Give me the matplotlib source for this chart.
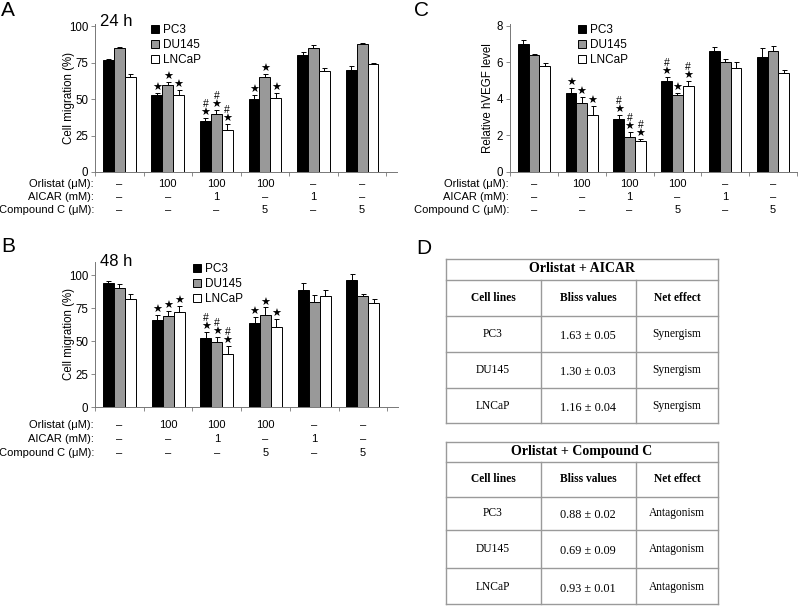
import numpy as np
import matplotlib
matplotlib.use('Agg')
import matplotlib.pyplot as plt
import matplotlib.transforms as mtransforms
from matplotlib.patches import Patch

plt.rcParams['font.family'] = ['Liberation Sans', 'DejaVu Sans']

W, H = 800, 606

# ---------------- data ----------------
cell_lines = ['PC3', 'DU145', 'LNCaP']
bar_colors = ['black', '#999999', 'white']

row_names = ['Orlistat (μM):', 'AICAR (mM):', 'Compound C (μM):']
orlistat = ['–', '100', '100', '100', '–', '–']
aicar = ['–', '–', '1', '–', '1', '–']
compound_c = ['–', '–', '–', '5', '–', '5']

# A: cell migration 24 h (%)
mig24_pc3 = [77, 53, 35, 50, 80, 70]
mig24_du145 = [85, 60, 40, 65, 85, 88]
mig24_lncap = [65, 53, 29, 51, 69, 74]
mig24_pc3_err = [0.5, 1.5, 2, 2.5, 2.5, 2.5]
mig24_du145_err = [1, 1.5, 2.5, 2, 2, 0.5]
mig24_lncap_err = [2, 3, 4, 3, 2, 1]

# B: cell migration 48 h (%)
mig48_pc3 = [94, 66, 52, 64, 89, 96]
mig48_du145 = [90, 69, 49, 70, 80, 84]
mig48_lncap = [82, 72, 40, 61, 84, 79]
mig48_pc3_err = [1.5, 4, 5, 4, 5, 5]
mig48_du145_err = [3, 3.5, 4, 5.5, 5, 1.5]
mig48_lncap_err = [4, 5, 6.5, 6, 4.5, 3]

# C: relative hVEGF level
vegf_pc3 = [7.0, 4.3, 2.9, 5.0, 6.6, 6.3]
vegf_du145 = [6.4, 3.8, 1.9, 4.2, 6.0, 6.6]
vegf_lncap = [5.8, 3.1, 1.7, 4.7, 5.7, 5.4]
vegf_pc3_err = [0.2, 0.3, 0.2, 0.2, 0.25, 0.5]
vegf_du145_err = [0.05, 0.3, 0.3, 0.15, 0.2, 0.3]
vegf_lncap_err = [0.15, 0.5, 0.1, 0.3, 0.3, 0.2]

# significance marks (* vs control, # vs orlistat alone)
sig_mig = ['', '*', '#*', '*', '', '']
sig_vegf_pc3 = ['', '*', '#*', '#*', '', '']
sig_vegf_du145 = ['', '*', '#*', '*', '', '']
sig_vegf_lncap = ['', '*', '#*', '#*', '', '']

# D: Bliss tables
table_cols = ['Cell lines', 'Bliss values', 'Net effect']
aicar_bliss = ['1.63 ± 0.05', '1.30 ± 0.03', '1.16 ± 0.04']
aicar_effect = ['Synergism', 'Synergism', 'Synergism']
compc_bliss = ['0.88 ± 0.02', '0.69 ± 0.09', '0.93 ± 0.01']
compc_effect = ['Antagonism', 'Antagonism', 'Antagonism']

fig = plt.figure(figsize=(W / 100, H / 100), dpi=100)


def px_axes(x0, y0, x1, y1):
    return fig.add_axes([x0 / W, 1 - y1 / H, (x1 - x0) / W, (y1 - y0) / H])


# overlay in pixel coordinates, drawn above everything
over = fig.add_axes([0, 0, 1, 1])
over.set_xlim(0, W)
over.set_ylim(H, 0)
over.axis('off')
over.set_zorder(10)

bw = 0.225
fs = 8


def bar_panel(ax, series, errs, sigs, ymax, yticks, ylabel, ylab_x, xmax, legend_xy, rows_y, label_x):
    x = np.arange(6)
    for k in range(3):
        xs = x + (k - 1) * bw
        ax.bar(xs, series[k], width=bw, color=bar_colors[k], edgecolor='black', linewidth=0.7, zorder=2)
        ax.errorbar(xs, series[k], yerr=[np.zeros(6), errs[k]], fmt='none', ecolor='black',
                    elinewidth=0.7, capsize=1.8, capthick=0.7, zorder=3)
        for i in range(6):
            top = series[k][i] + errs[k][i]
            if '*' in sigs[k][i]:
                ax.annotate('★', (xs[i], top), xytext=(0, 5), textcoords='offset pixels',
                            ha='center', va='center', fontsize=8, family='DejaVu Sans')
            if '#' in sigs[k][i]:
                ax.annotate('#', (xs[i], top), xytext=(0, 14), textcoords='offset pixels',
                            ha='center', va='center', fontsize=7.5)
    ax.set_xlim(-0.5, xmax)
    ax.set_ylim(0, ymax)
    ax.set_yticks(yticks)
    ax.set_xticks(np.arange(7) - 0.5)
    ax.set_xticklabels([])
    ax.tick_params(axis='x', length=3, width=0.6, color='#777777')
    ax.tick_params(axis='y', length=3, width=0.6, color='#777777', labelsize=fs + 0.3, pad=2)
    for s in ['top', 'right']:
        ax.spines[s].set_visible(False)
    for s in ['left', 'bottom']:
        ax.spines[s].set_color('#777777')
        ax.spines[s].set_linewidth(0.7)
    ax.set_ylabel(ylabel, fontsize=fs + 0.3)
    x0 = ax.get_position().x0 * W
    # label anchor is its right side; shift so the text centre lands on ylab_x
    ax.yaxis.set_label_coords((ylab_x + 6 - x0) / (ax.get_position().width * W), 0.5)
    handles = [Patch(facecolor=c, edgecolor='black', linewidth=0.7) for c in bar_colors]
    ax.legend(handles, cell_lines, loc='upper left',
              bbox_to_anchor=(legend_xy[0] / W, 1 - legend_xy[1] / H), bbox_transform=fig.transFigure,
              frameon=False, fontsize=fs + 0.5, handlelength=0.7, handleheight=0.7, handletextpad=0.35,
              labelspacing=0.25, borderpad=0, borderaxespad=0)
    tr = mtransforms.blended_transform_factory(ax.transData, over.transData)
    for name, vals, yy in zip(row_names, [orlistat, aicar, compound_c], rows_y):
        over.text(label_x, yy, name, ha='right', va='center', fontsize=fs)
        for i, v in enumerate(vals):
            over.text(i, yy, v, ha='center', va='center', fontsize=fs, transform=tr)


axA = px_axes(95, 24, 397, 172)
bar_panel(axA, [mig24_pc3, mig24_du145, mig24_lncap],
          [mig24_pc3_err, mig24_du145_err, mig24_lncap_err], [sig_mig] * 3,
          101.5, [0, 25, 50, 75, 100], 'Cell migration (%)', 69, 5.72, (151, 24), (184, 197, 210), 94)

axB = px_axes(95, 262, 398, 407)
bar_panel(axB, [mig48_pc3, mig48_du145, mig48_lncap],
          [mig48_pc3_err, mig48_du145_err, mig48_lncap_err], [sig_mig] * 3,
          110, [0, 25, 50, 75, 100], 'Cell migration (%)', 69, 5.72, (193, 263), (425, 439, 453), 94)

axC = px_axes(510, 24, 797, 172)
bar_panel(axC, [vegf_pc3, vegf_du145, vegf_lncap],
          [vegf_pc3_err, vegf_du145_err, vegf_lncap_err], [sig_vegf_pc3, sig_vegf_du145, sig_vegf_lncap],
          8.1, [0, 2, 4, 6, 8], 'Relative hVEGF level', 488, 5.45, (578, 24), (184, 197, 210), 509)

over.text(100, 22, '24 h', fontsize=12, va='center', ha='left')
over.text(100, 262, '48 h', fontsize=12, va='center', ha='left')

for letter, lx, ly in [('A', 1, 11), ('B', 1, 246), ('C', 414, 11), ('D', 416, 248)]:
    over.text(lx, ly, letter, fontsize=15, ha='left', va='center')

# ---------------- tables ----------------
serif = ['Liberation Serif', 'DejaVu Serif']
tab_x = [446, 541, 636, 718]
col_cx = [493, 588, 677]
line_c = '#9a9a9a'


def draw_table(title, ys, text_y, bliss, effect):
    for yy in ys:
        over.plot([tab_x[0], tab_x[-1]], [yy, yy], color=line_c, lw=1)
    for xx in [tab_x[0], tab_x[-1]]:
        over.plot([xx, xx], [ys[0], ys[-1]], color=line_c, lw=1)
    for xx in tab_x[1:3]:
        over.plot([xx, xx], [ys[1], ys[-1]], color=line_c, lw=1)
    over.text((tab_x[0] + tab_x[-1]) / 2, text_y[0], title, ha='center', va='center',
              fontsize=10, fontweight='bold', family=serif)
    for c, h in zip(col_cx, table_cols):
        over.text(c, text_y[1], h, ha='center', va='center', fontsize=8.3, fontweight='bold', family=serif)
    for r in range(3):
        yy = text_y[r + 2]
        over.text(col_cx[0], yy, cell_lines[r], ha='center', va='center', fontsize=8.3, family=serif)
        over.text(col_cx[1], yy + 2, bliss[r], ha='center', va='center', fontsize=8.8, family=serif)
        over.text(col_cx[2], yy, effect[r], ha='center', va='center', fontsize=8.3, family=serif)


draw_table('Orlistat + AICAR', [259, 280, 316, 352, 388, 423],
           [269, 298, 334, 370, 406], aicar_bliss, aicar_effect)
draw_table('Orlistat + Compound C', [442, 462, 497, 530, 568, 604],
           [451, 479, 513, 549, 587], compc_bliss, compc_effect)

fig.savefig('out.png', dpi=100)
